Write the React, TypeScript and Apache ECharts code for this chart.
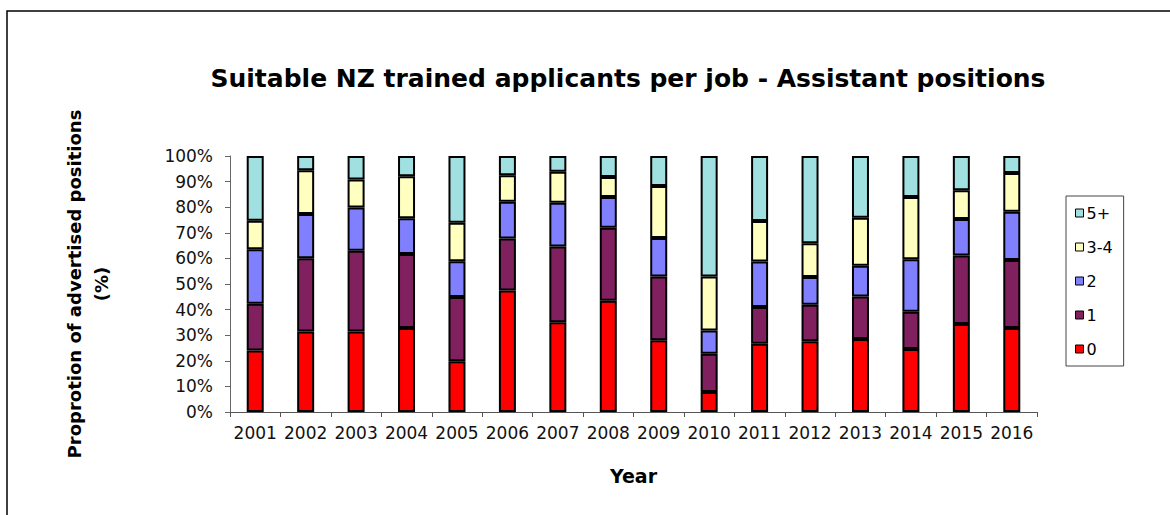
import React, { useEffect, useRef } from "react";
import * as echarts from "echarts";

const years = ["2001","2002","2003","2004","2005","2006","2007","2008","2009","2010","2011","2012","2013","2014","2015","2016"];
const seriesNames = ["0", "1", "2", "3-4", "5+"];
const s0 = [24.0, 31.4, 31.4, 32.8, 19.8, 47.5, 35.1, 43.5, 28.0, 7.8, 26.7, 27.6, 28.5, 24.6, 34.4, 32.8];
const s1 = [18.3, 28.7, 31.6, 28.9, 25.1, 20.3, 29.5, 28.5, 24.9, 15.0, 14.3, 14.3, 16.6, 14.6, 26.7, 26.6];
const s2 = [21.3, 17.2, 16.9, 14.0, 14.0, 14.3, 17.1, 12.0, 15.1, 9.0, 17.8, 10.8, 12.0, 20.5, 14.3, 18.8];
const s34 = [11.1, 17.1, 10.9, 16.4, 15.0, 10.4, 12.1, 7.8, 20.3, 21.1, 15.8, 13.2, 18.8, 24.3, 11.2, 15.2];
const s5 = [25.3, 5.6, 9.2, 7.9, 26.1, 7.5, 6.2, 8.2, 11.7, 47.1, 25.4, 34.1, 24.1, 16.0, 13.4, 6.6];
const seriesData = [s0, s1, s2, s34, s5];
const colors = ["#FF0000", "#80205F", "#8080FF", "#FFFFC0", "#A0E0E0"];
const legendOrder = ["5+", "3-4", "2", "1", "0"];

const FONT = "DejaVu Sans";

export default function App() {
  const ref = useRef<HTMLDivElement>(null);
  useEffect(() => {
    if (!ref.current) return;
    const chart = echarts.init(ref.current, undefined, { renderer: "svg" });
    chart.setOption({
      animation: false,
      backgroundColor: "#ffffff",
      title: {
        text: "Suitable NZ trained applicants per job - Assistant positions",
        left: 623,
        top: 61,
        textAlign: "center",
        textStyle: { fontFamily: FONT, fontWeight: "bold", fontSize: 25, color: "#000" },
      },
      legend: {
        orient: "vertical",
        left: 1066,
        top: 196,
        padding: [9, 11, 9, 9],
        itemGap: 18,
        itemWidth: 8,
        itemHeight: 8,
        icon: "rect",
        borderColor: "#444",
        borderWidth: 1,
        data: legendOrder,
        itemStyle: { borderWidth: 1, borderColor: "#000" },
        textStyle: { fontFamily: FONT, fontSize: 16, color: "#000", padding: [0, 0, 0, -2] },
      },
      grid: { left: 230, right: 133, top: 156, bottom: 103, containLabel: false },
      xAxis: {
        type: "category",
        data: years,
        name: "Year",
        nameLocation: "middle",
        nameGap: 54,
        nameTextStyle: { fontFamily: FONT, fontWeight: "bold", fontSize: 19, color: "#000" },
        axisLine: { lineStyle: { color: "#555", width: 1 } },
        axisTick: { show: true, alignWithLabel: false, length: 5, lineStyle: { color: "#555" } },
        axisLabel: { fontFamily: FONT, fontSize: 17, color: "#111", margin: 12, interval: 0 },
      },
      yAxis: {
        type: "value",
        min: 0,
        max: 100,
        interval: 10,
        name: "Proprotion of advertised positions\n(%)",
        nameLocation: "middle",
        nameRotate: 90,
        nameGap: 115,
        nameTextStyle: { fontFamily: FONT, fontWeight: "bold", fontSize: 18, color: "#000", lineHeight: 27 },
        axisLine: { show: true, lineStyle: { color: "#666", width: 1 } },
        axisTick: { show: true, length: 5, lineStyle: { color: "#666" } },
        splitLine: { show: false },
        axisLabel: { fontFamily: FONT, fontSize: 17, color: "#111", margin: 17, formatter: "{value}%" },
      },
      series: seriesNames.map((n, i) => ({
        name: n,
        type: "bar",
        stack: "total",
        barWidth: 17,
        data: seriesData[i],
        itemStyle: { color: colors[i], borderColor: "#000", borderWidth: 2 },
      })),
      graphic: [
        {
          type: "polyline",
          shape: { points: [[7, 515], [7, 11], [1170, 11]] },
          style: { stroke: "#000", lineWidth: 1.5, fill: null },
          silent: true,
        },
      ],
    });
    return () => chart.dispose();
  }, []);
  return (
    <div
      ref={ref}
      style={{ position: "fixed", left: 0, top: 0, width: 1170, height: 515, background: "#fff" }}
    />
  );
}
